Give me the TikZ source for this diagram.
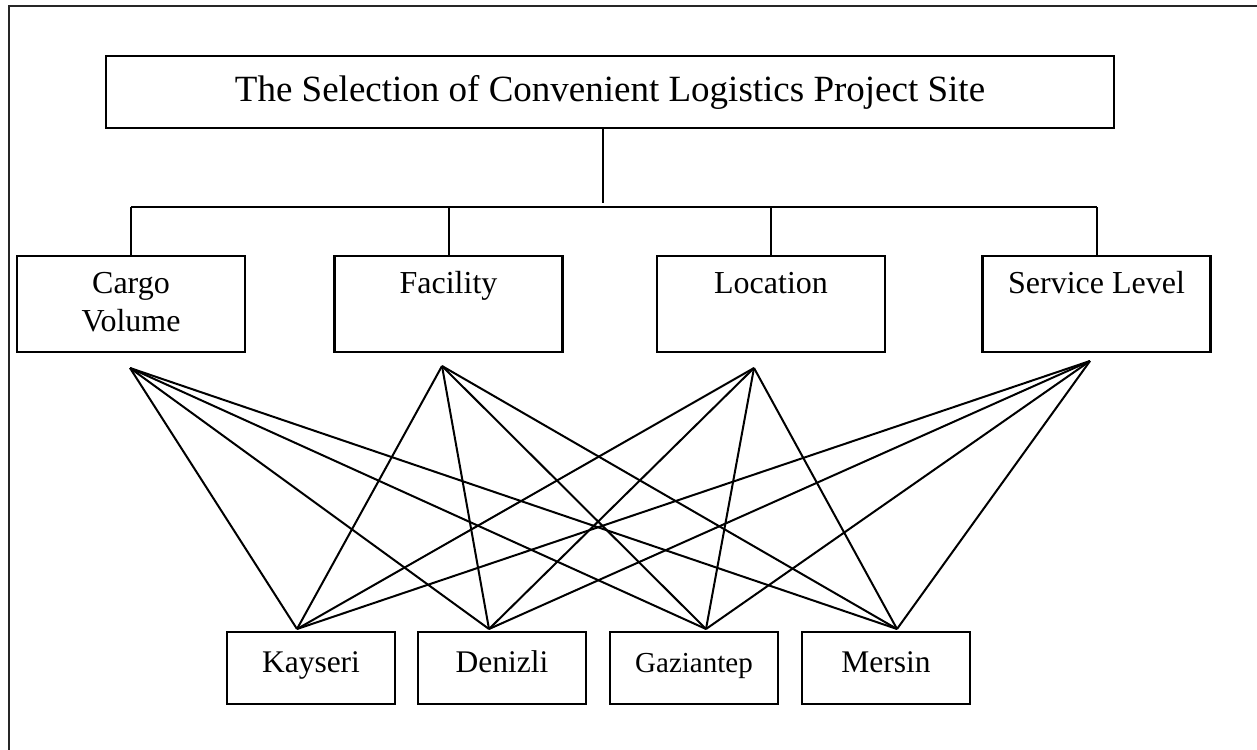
\documentclass[tikz,border=0pt]{standalone}
\usepackage{fontspec}
\setmainfont{Liberation Serif}
\usetikzlibrary{positioning}

\begin{document}
\begin{tikzpicture}[x=1pt, y=-1pt]
    \tikzset{
        cbox/.style={draw, line width=2.2pt, inner sep=0pt},
        cline/.style={-, line width=2pt},
        ctext/.style={anchor=north, align=center, inner sep=0pt, font=\fontsize{32}{38}\selectfont},
    }
    \useasboundingbox (0,0) rectangle (1257,749);
    \clip (0,0) rectangle (1257,749);
    \draw[line width=2.4pt, draw=black!85] (9,6) rectangle (1300,800);

    % Goal:
    \node[cbox, minimum width=1008pt, minimum height=72pt, font=\fontsize{37}{44}\selectfont] (title) at (610,92) {The Selection of Convenient Logistics Project Site};

    % Criteria:
    \foreach \x/\n/\t in {131/cargo/{Cargo\\Volume}, 448.5/facility/Facility, 771/location/Location, 1096.5/service/Service Level} {
        \node[cbox, minimum width=228pt, minimum height=96pt] (\n) at (\x,304) {};
        \node[ctext, below=16pt of \n.north] (\n-txt) {\vphantom{l}\t};
        \draw[cline] (\n.north) -- ++(0,-48) coordinate (\n-up);
    }
    \coordinate (hub) at (603,203);
    \draw[cline] (title.south -| hub) -- (hub);
    \draw[cline] (cargo-up) -- (service-up);

    % Alternatives:
    \foreach \x/\n/\t/\s in {311/kayseri/Kayseri/31.5, 502/denizli/Denizli/31.5, 694/gaziantep/Gaziantep/29, 886/mersin/Mersin/31.5} {
        \node[cbox, minimum width=168pt, minimum height=72pt, text height=21.5pt, text depth=12pt, font=\fontsize{\s}{38}\selectfont] (\n) at (\x,668) {\t};
    }

    % Meeting points:
    \coordinate (cargo-a) at (130,368);
    \coordinate (facility-a) at (442,366);
    \coordinate (location-a) at (754,368);
    \coordinate (service-a) at (1090,361);
    \coordinate (kayseri-a) at (297,629);
    \coordinate (denizli-a) at (489,629);
    \coordinate (gaziantep-a) at (706,629);
    \coordinate (mersin-a) at (897,629);

    \foreach \a in {cargo, facility, location, service} {
        \foreach \b in {kayseri, denizli, gaziantep, mersin} {
            \draw[cline] (\a-a) -- (\b-a);
        }
    }
\end{tikzpicture}
\end{document}
